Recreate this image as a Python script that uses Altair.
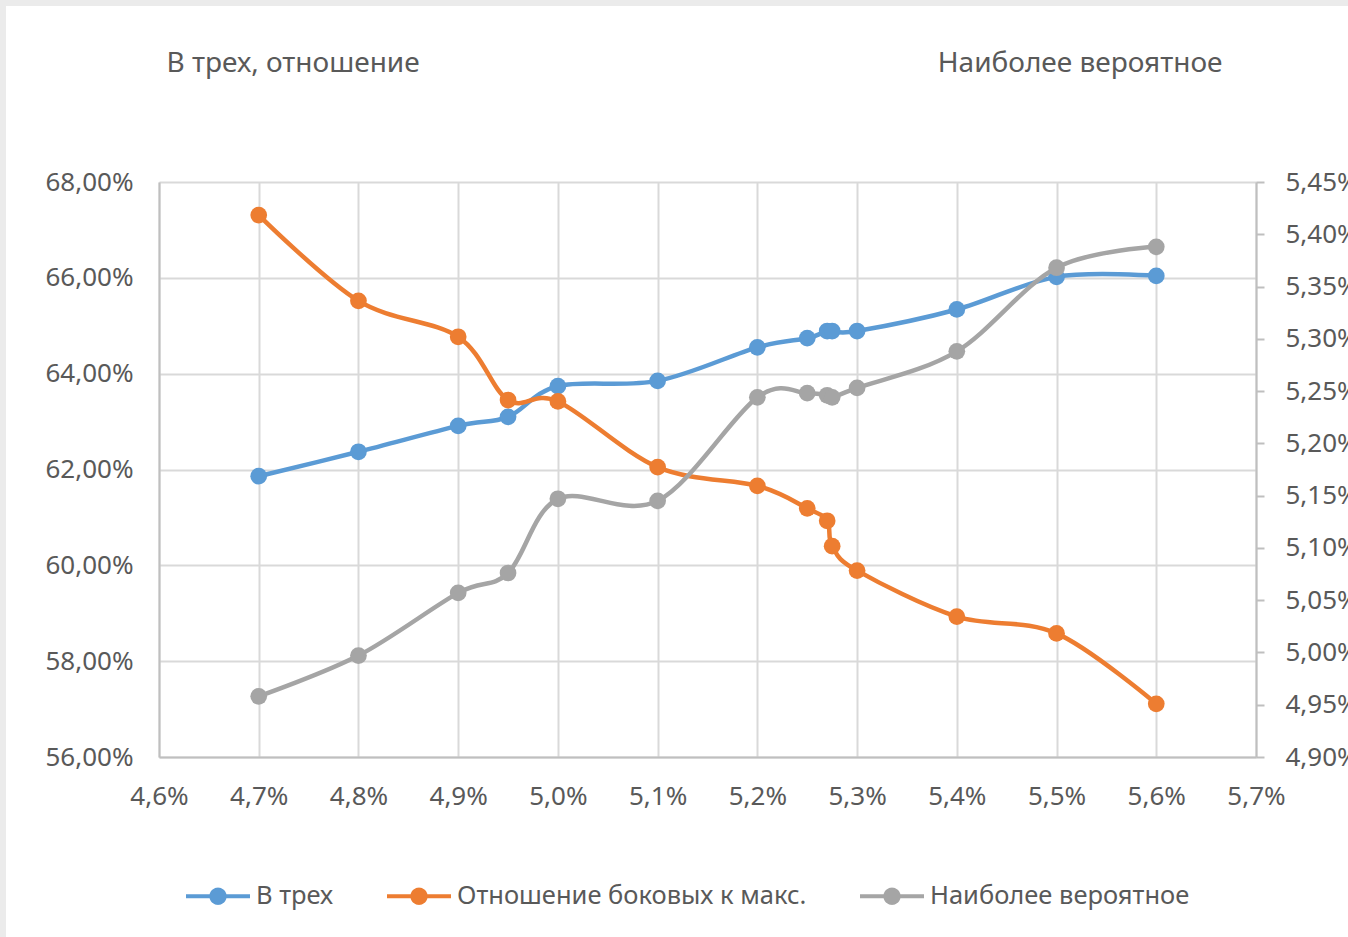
import math

import altair as alt
import pandas as pd

# Key rate, %  (x axis)
rate = [4.70, 4.80, 4.90, 4.95, 5.00, 5.10, 5.20, 5.25, 5.27, 5.275, 5.30, 5.40, 5.50, 5.60]

# Left axis series, %
in_three = [61.86, 62.37, 62.91, 63.10, 63.74, 63.85, 64.55, 64.74, 64.89, 64.89, 64.89, 65.34, 66.02, 66.04]
side_to_max = [67.31, 65.52, 64.77, 63.45, 63.42, 62.05, 61.66, 61.19, 60.93, 60.40, 59.89, 58.93, 58.58, 57.11]

# Right axis series, %
most_likely = [4.958, 4.997, 5.057, 5.076, 5.147, 5.145, 5.244, 5.248, 5.246, 5.244, 5.253, 5.288, 5.368, 5.388]

series_names = ["В трех", "Отношение боковых к макс.", "Наиболее вероятное"]
series_colors = ["#5B9BD5", "#ED7D31", "#A5A5A5"]

x_ticks = [4.6, 4.7, 4.8, 4.9, 5.0, 5.1, 5.2, 5.3, 5.4, 5.5, 5.6, 5.7]
left_ticks = [56, 58, 60, 62, 64, 66, 68]
right_ticks = [4.90, 4.95, 5.00, 5.05, 5.10, 5.15, 5.20, 5.25, 5.30, 5.35, 5.40, 5.45]

left_title = "В трех, отношение"
right_title = "Наиболее вероятное"

FONT = "Noto Sans"
TEXT = "#595959"
W, H = 1097, 575
PAD = {"left": 159, "top": 182, "right": 92, "bottom": 180}


def pct(decimals):
    return f"replace(format(datum.value, '.{decimals}f'), '.', ',') + '%'"


def frame(values, name):
    return pd.DataFrame({"rate": rate, "value": values, "series": name})


def line_with_dot(r=0.27, h=0.065, steps=24):
    """Legend glyph in unit space: a short bar with a dot in its middle,
    traced as one closed outline."""
    a0 = math.asin(h / r)
    pts = [(-1.0, -h)]
    # upper half of the dot, left to right
    for i in range(steps + 1):
        a = math.pi - a0 - (math.pi - 2 * a0) * i / steps
        pts.append((r * math.cos(a), -r * math.sin(a)))
    pts += [(1.0, -h), (1.0, h)]
    # lower half of the dot, right to left
    for i in range(steps + 1):
        a = a0 + (math.pi - 2 * a0) * i / steps
        pts.append((r * math.cos(a), r * math.sin(a)))
    pts.append((-1.0, h))
    body = "L".join(f"{x:.4f},{y:.4f}" for x, y in pts)
    return "M" + body + "Z"


color_scale = alt.Scale(domain=series_names, range=series_colors)

legend = alt.Legend(
    title=None,
    orient="none",
    legendX=27,
    legendY=682,
    direction="horizontal",
    symbolType=line_with_dot(),
    symbolSize=4096,
    symbolStrokeWidth=0,
    symbolOpacity=1,
    labelFont=FONT,
    labelFontSize=25.5,
    labelColor=TEXT,
    labelOffset=6,
    labelLimit=600,
    columnPadding=53,
)

x_enc = alt.X(
    "rate:Q",
    scale=alt.Scale(domain=[4.6, 5.7], nice=False, zero=False),
    axis=alt.Axis(
        values=x_ticks,
        labelExpr=pct(1),
        title=None,
        ticks=False,
        labelPadding=26,
        labelFlush=False,
        labelOverlap=False,
        grid=True,
    ),
)

y_left = alt.Y(
    "value:Q",
    scale=alt.Scale(domain=[56, 68], nice=False, zero=False),
    axis=alt.Axis(
        orient="left",
        values=left_ticks,
        labelExpr=pct(2),
        title=left_title,
        titleX=7,
        titleY=-119,
        titleAngle=0,
        titleAlign="left",
        titleBaseline="middle",
        ticks=False,
        labelPadding=26,
        labelFlush=False,
        labelOverlap=False,
        grid=True,
    ),
)

y_right = alt.Y(
    "value:Q",
    scale=alt.Scale(domain=[4.90, 5.45], nice=False, zero=False),
    axis=alt.Axis(
        orient="right",
        values=right_ticks,
        labelExpr=pct(2),
        title=right_title,
        titleX=-34,
        titleY=-119,
        titleAngle=0,
        titleAlign="right",
        titleBaseline="middle",
        ticks=True,
        tickSize=8,
        labelPadding=21,
        labelFlush=False,
        labelOverlap=False,
        grid=False,
    ),
)


def series_layer(values, idx, y_enc):
    base = alt.Chart(frame(values, series_names[idx])).encode(x=x_enc, y=y_enc)
    line = base.mark_line(
        interpolate="cardinal",
        strokeWidth=4.5,
        strokeCap="round",
        strokeJoin="round",
        color=series_colors[idx],
    )
    dots = base.mark_circle(size=280, opacity=1).encode(
        color=alt.Color("series:N", scale=color_scale, legend=legend)
    )
    return [line, dots]


left = alt.layer(
    *series_layer(in_three, 0, y_left),
    *series_layer(side_to_max, 1, y_left),
)
right = alt.layer(*series_layer(most_likely, 2, y_right))

# thin grey frame along the top and left edges of the card
edge = pd.DataFrame({"k": [0]})
top_edge = alt.Chart(edge).mark_rect(color="#EBEBEB").encode(
    x=alt.value(-PAD["left"]), x2=alt.value(W + PAD["right"]),
    y=alt.value(-PAD["top"]), y2=alt.value(-PAD["top"] + 6),
)
left_edge = alt.Chart(edge).mark_rect(color="#EBEBEB").encode(
    x=alt.value(-PAD["left"]), x2=alt.value(-PAD["left"] + 6),
    y=alt.value(-PAD["top"]), y2=alt.value(H + PAD["bottom"]),
)

chart = (
    alt.layer(left, right, top_edge, left_edge)
    .resolve_scale(y="independent")
    .properties(
        width=W,
        height=H,
        autosize=alt.AutoSizeParams(type="none"),
        padding=PAD,
        background="white",
    )
    .configure_view(stroke=None)
    .configure_axis(
        labelFont=FONT,
        labelFontSize=26,
        labelColor=TEXT,
        titleFont=FONT,
        titleFontSize=28,
        titleColor=TEXT,
        titleFontWeight="normal",
        gridColor="#D9D9D9",
        gridWidth=2,
        domainColor="#BFBFBF",
        domainWidth=2,
        tickColor="#BFBFBF",
        tickWidth=2,
    )
)

chart.save("out.html", embed_options={"renderer": "svg", "actions": False})
